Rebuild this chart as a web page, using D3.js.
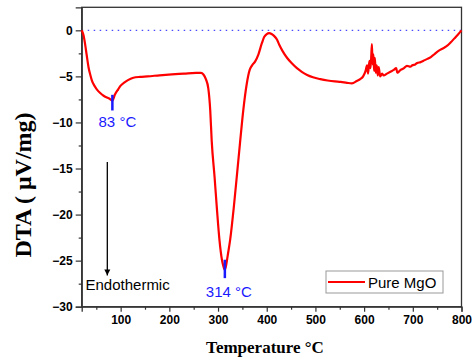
<!DOCTYPE html>
<html><head><meta charset="utf-8">
<script src="https://cdn.jsdelivr.net/npm/d3@7"></script>
<style>html,body{margin:0;padding:0;background:#fff;}svg{display:block;}</style>
</head><body>
<svg id="c" width="472" height="359"></svg>
<script>
const temperature = [20,24,27,30,34,38,41,46,51,58,65,72,78,83,88,95,100,108,115,126,140,155,180,205,230,255,265,270,275,280,284,287,293,298,303,308,311,314,317,320,325,332,339,345,352,359,365,370,376,383,390,395,400,405,410,415,421,426,432,442,452,462,472,483,495,510,525,540,552,565,575,585,592,598,603,606,608,611,613,614.5,616,617.5,619,620.5,622,624,626,628,630,633,637,640,647,654,661,666,668,671,675,682,688,695,699,705,709,716,722,730,737,743,750,757,764,770,778,785,792,800];
const dta = [0,-0.6,-1.5,-2.6,-4.0,-4.9,-5.45,-6.0,-6.4,-6.8,-7.1,-7.3,-7.45,-7.65,-7.0,-6.4,-6.0,-5.65,-5.4,-5.15,-5.05,-5.0,-4.88,-4.78,-4.7,-4.62,-4.62,-4.8,-5.3,-6.3,-8.7,-12.0,-16.0,-19.6,-22.8,-24.9,-25.6,-26.0,-25.4,-24.4,-22.7,-19.4,-15.6,-12.3,-8.6,-5.8,-4.3,-3.8,-3.4,-2.6,-1.4,-0.7,-0.4,-0.3,-0.4,-0.6,-1.0,-1.6,-2.2,-3.0,-3.6,-4.1,-4.5,-4.85,-5.1,-5.3,-5.45,-5.55,-5.6,-5.7,-5.75,-5.5,-5.3,-5.0,-4.4,-3.8,-4.7,-3.3,-4.1,-3.0,-1.5,-3.7,-2.6,-4.4,-3.0,-4.6,-3.8,-4.9,-4.0,-5.0,-4.7,-4.9,-4.7,-4.5,-4.3,-4.1,-4.6,-4.5,-4.3,-4.1,-3.85,-3.95,-3.8,-3.7,-3.55,-3.45,-3.3,-3.1,-2.9,-2.65,-2.35,-2.1,-1.9,-1.7,-1.3,-0.9,-0.5,0];
const xTicks = [100,200,300,400,500,600,700,800];
const yTicks = [0,-5,-10,-15,-20,-25,-30];
const peakTemps = [83,314];
const peakTop = [-7.0,-24.9];
const peakBottom = [-8.7,-26.9];
const peakLabels = ["83 °C","314 °C"];
const seriesName = "Pure MgO";
const xTitle = "Temperature °C";
const yTitle = "DTA ( μV/mg)";
const annotation = "Endothermic";

const svg = d3.select("#c");
const L=81.7, R=461.5, T=7.3, B=306.7;
const x = d3.scaleLinear().domain([20,800]).range([L,R]);
const y = d3.scaleLinear().domain([-30,2.5]).range([B,T]);

// frame
svg.append("rect").attr("x",L).attr("y",T).attr("width",R-L).attr("height",B-T)
  .attr("fill","none").attr("stroke","#333").attr("stroke-width",1.3);

// zero dotted line
svg.append("line").attr("x1",L).attr("x2",R).attr("y1",y(0)).attr("y2",y(0))
  .attr("stroke","#4a4aff").attr("stroke-width",1.2).attr("stroke-dasharray","1.5,4.5");

// axes
const xAxis = d3.axisBottom(x).tickValues(xTicks).tickSize(5).tickPadding(4).tickFormat(d3.format("d"));
svg.append("g").attr("transform",`translate(0,${B})`).call(xAxis);
const xMinor = d3.axisBottom(x).tickValues(d3.range(50,800,100)).tickSize(3).tickFormat("");
svg.append("g").attr("transform",`translate(0,${B})`).call(xMinor).select(".domain").remove();
const yAxis = d3.axisLeft(y).tickValues(yTicks).tickSize(6).tickPadding(3);
svg.append("g").attr("transform",`translate(${L},0)`).call(yAxis);
const yMinor = d3.axisLeft(y).tickValues(d3.range(-27.5,0,5)).tickSize(3).tickFormat("");
svg.append("g").attr("transform",`translate(${L},0)`).call(yMinor).select(".domain").remove();
svg.selectAll(".domain").attr("stroke","#333").attr("stroke-width",1.3);
svg.selectAll(".tick line").attr("stroke","#333").attr("stroke-width",1.2);
svg.selectAll(".tick text").attr("font-family","Arial, 'Liberation Sans', sans-serif")
  .attr("font-weight","bold").attr("font-size",12).attr("fill","#000");

// curve
const line = d3.line().x((d,i)=>x(temperature[i])).y(d=>y(d)).curve(d3.curveMonotoneX);
svg.append("path").datum(dta).attr("d",line).attr("fill","none")
  .attr("stroke","#ff0000").attr("stroke-width",2.2).attr("stroke-linejoin","round");

// peak markers
peakTemps.forEach((t,i)=>{
  svg.append("line").attr("x1",x(t)).attr("x2",x(t)).attr("y1",y(peakTop[i])).attr("y2",y(peakBottom[i]))
    .attr("stroke","#1a1aff").attr("stroke-width",2.5);
});
svg.append("text").attr("x",x(83)+5).attr("y",126.5).attr("text-anchor","middle")
  .attr("font-family","Arial, 'Liberation Sans', sans-serif").attr("font-size",15).attr("fill","#1a1aff").text(peakLabels[0]);
svg.append("text").attr("x",x(314)+4).attr("y",296.5).attr("text-anchor","middle")
  .attr("font-family","Arial, 'Liberation Sans', sans-serif").attr("font-size",15).attr("fill","#1a1aff").text(peakLabels[1]);

// endothermic arrow
const ax = x(72.6);
svg.append("defs").append("marker").attr("id","ah").attr("viewBox","0 0 10 10").attr("refX",10).attr("refY",5)
  .attr("markerWidth",6).attr("markerHeight",7).attr("markerUnits","userSpaceOnUse").attr("orient","auto")
  .append("path").attr("d","M0,0 L10,5 L0,10 z").attr("fill","#000");
svg.append("line").attr("x1",ax).attr("x2",ax).attr("y1",y(-14.3)).attr("y2",y(-26.6))
  .attr("stroke","#000").attr("stroke-width",1.3).attr("marker-end","url(#ah)");
svg.append("text").attr("x",85.5).attr("y",290).attr("font-family","Arial, 'Liberation Sans', sans-serif")
  .attr("font-size",15).attr("fill","#000").text(annotation);

// legend
svg.append("rect").attr("x",326).attr("y",271).attr("width",117).attr("height",22)
  .attr("fill","#fff").attr("stroke","#999").attr("stroke-width",1);
svg.append("line").attr("x1",328).attr("x2",365).attr("y1",282).attr("y2",282).attr("stroke","#ff0000").attr("stroke-width",2.2);
svg.append("text").attr("x",368).attr("y",287.5).attr("font-family","Arial, 'Liberation Sans', sans-serif")
  .attr("font-size",15).attr("fill","#000").text(seriesName);

// titles
svg.append("text").attr("x",265).attr("y",353).attr("text-anchor","middle")
  .attr("font-family","'Times New Roman','Liberation Serif',serif").attr("font-weight","bold").attr("font-size",17).text(xTitle);
svg.append("text").attr("transform","translate(31,185) rotate(-90)").attr("text-anchor","middle")
  .attr("font-family","'Times New Roman','Liberation Serif',serif").attr("font-weight","bold").attr("font-size",24).text(yTitle);
</script>
</body></html>
